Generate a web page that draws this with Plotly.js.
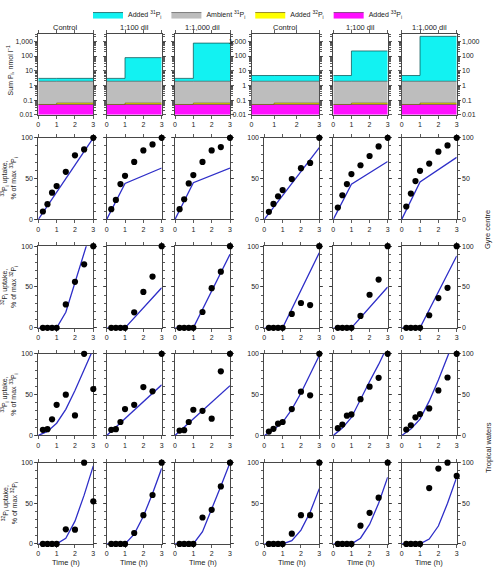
<!DOCTYPE html>
<html><head><meta charset="utf-8">
<script src="https://cdn.plot.ly/plotly-3.0.1.min.js"></script>
<style>body{margin:0;padding:0;background:#fff;} #chart{width:497px;height:567px;}</style>
</head><body><div id="chart"></div>
<script>
const W = 497, H = 567;

// ---------- data ----------
const columnTitles = ["Control", "1:100 dil", "1:1,000 dil", "Control", "1:100 dil", "1:1,000 dil"];
const stepTimes = [0, 1, 3];
const sampleTimes = [0.25, 0.5, 0.75, 1, 1.5, 2, 2.5, 3];
const curveTimes = [0, 0.5, 1, 1.5, 2, 2.5, 3];

// top row: stacked P pools (nmol l-1), per step time
const added33Pi = [0.05, 0.05, 0.05];
const added32Pi = [0, 0.012, 0.012];
const ambient31Pi = [1.85, 1.85, 1.85];
const added31Pi = [
  [1.1, 1.1, 1.1], [1.1, 76, 76], [1.1, 760, 760],
  [2.8, 2.8, 2.8], [2.8, 220, 220], [2.8, 2200, 2200]
];

// row 2: Gyre centre, 33Pi uptake (% of max)
const gyre33Dots = [
  [9.7, 18.6, 32.8, 40.9, 58.3, 78.5, 85.8, 100],
  [12.5, 23.9, 43.3, 53.4, 70.4, 84.6, 91.9, 100],
  [12.5, 24.7, 44.1, 54.3, 70.4, 84.6, 88.7, 100],
  [9.3, 19, 28.3, 36, 49.4, 62.8, 69.2, 100],
  [14.6, 29.6, 43.3, 55.5, 66.4, 77.7, 89.5, 100],
  [15.8, 31.6, 47, 59.5, 68.4, 83, 90.7, 100]
];
const gyre33ModelT = [[0, 3], [0, 1, 3], [0, 1, 3], [0, 3], [0, 1, 3], [0, 1, 3]];
const gyre33ModelY = [[0, 100], [0, 44, 63], [0, 45, 63], [0, 88], [0, 43, 71], [0, 46, 76]];

// row 3: Gyre centre, 32Pi uptake
const gyre32Dots = [
  [0, 0, 0, 0, 28.7, 56.3, 77.7, 100],
  [0, 0, 0, 0, 19, 44, 62.8, 100],
  [0, 0, 0, 0, 19.4, 48.6, 68.8, 100],
  [0, 0, 0, 0, 17, 30.4, 27.9, 100],
  [0, 0, 0, 0, 14.6, 40.5, 59.1, 100],
  [0, 0, 0, 0, 15.4, 36.4, 49, 100]
];
const gyre32ModelT = [[0, 0.5, 1, 1.5, 2, 2.5, 3], [0, 1, 3], [0, 1, 3], [0, 1, 3], [0, 1, 3], [0, 1, 3]];
const gyre32ModelY = [[0, 0, 0, 19, 55, 92, 128], [0, 0, 49], [0, 0, 90], [0, 0, 92], [0, 0, 50], [0, 0, 88]];

// row 4: Tropical waters, 33Pi uptake
const trop33Dots = [
  [6.9, 7.7, 19.8, 37.5, 50, 24.6, 100, 56.9],
  [6.9, 7.7, 16.5, 32.3, 37.5, 59.3, 54, 100],
  [6, 6.5, 16.5, 31.5, 30.2, 20.6, 78.6, 100],
  [4.8, 8.1, 14.5, 16.5, 32.3, 53.6, 49.2, 100],
  [8.9, 13.3, 24.2, 25.8, 44.4, 59.7, 70.6, 100],
  [7.3, 12.5, 22.2, 26.2, 33.1, 55.2, 71, 100]
];
const trop33ModelT = [curveTimes, [0, 3], [0, 3], curveTimes, curveTimes, curveTimes];
const trop33ModelY = [
  [0, 5, 15, 32, 55, 80, 106], [0, 62], [0, 61],
  [0, 7, 16, 32, 52, 74, 98], [0, 9, 22, 45, 66, 87, 110], [0, 8, 20, 42, 68, 97, 125]
];

// row 5: Tropical waters, 32Pi uptake
const trop32Dots = [
  [0, 0, 0, 0, 17.9, 17.5, 100, 52.4],
  [0, 0, 0, 0, 13.4, 35.4, 60.2, 100],
  [0, 0, 0, 0, 32.5, 41.9, 70.7, 100],
  [0, 0, 0, 0, 12.6, 35.4, 35.4, 100],
  [0, 0, 0, 0, 22.4, 38.2, 56.9, 100],
  [0, 0, 0, 0, 68.7, 92.7, 100, 83.7]
];
const trop32ModelT = [curveTimes, curveTimes, curveTimes, curveTimes, curveTimes, curveTimes];
const trop32ModelY = [
  [0, 0, 0, 7, 28, 60, 96], [0, 0, 0, 12, 34, 62, 93], [0, 0, 0, 15, 42, 71, 100],
  [0, 0, 0, 4, 17, 39, 68], [0, 0, 0, 7, 24, 50, 82], [0, 0, 0, 6, 22, 50, 82]
];

const uptakeRows = [
  {dots: gyre33Dots, mT: gyre33ModelT, mY: gyre33ModelY, iso: "33"},
  {dots: gyre32Dots, mT: gyre32ModelT, mY: gyre32ModelY, iso: "32"},
  {dots: trop33Dots, mT: trop33ModelT, mY: trop33ModelY, iso: "33"},
  {dots: trop32Dots, mT: trop32ModelT, mY: trop32ModelY, iso: "32"}
];

// ---------- geometry (pixels) ----------
const colX = [[38.3, 93.3], [106.7, 161.7], [175, 230], [264.3, 319.3], [333.3, 387.7], [401.7, 456.7]];
const topColX = [[38.3, 93.3], [106.7, 161.7], [175, 230], [251.5, 319.3], [333.3, 387.7], [401.7, 456.7]];
const rowY = [[29.3, 110.7], [134, 216.3], [243.3, 325.7], [351.9, 434.3], [461.7, 543.7]];
const px = v => v / W;
const py = v => 1 - v / H;

const FONT = 'Liberation Sans, Arial, sans-serif';
const TXT = '#222';
const AX = '#333';

const traces = [];
const layout = {
  width: W, height: H,
  margin: {l: 0, r: 0, t: 0, b: 0},
  paper_bgcolor: '#fff', plot_bgcolor: '#fff',
  font: {family: FONT, size: 7, color: TXT},
  showlegend: true,
  legend: {
    orientation: 'h', x: px(88), xanchor: 'left', y: py(-5), yanchor: 'top',
    font: {family: FONT, size: 7, color: TXT}, bgcolor: 'rgba(0,0,0,0)',
    itemwidth: 30, tracegroupgap: 0, traceorder: 'normal'
  },
  annotations: []
};

let k = 0;
function makeAxes(xd, yd, yopts, showYLabels, ySide) {
  k++;
  const xn = k === 1 ? 'xaxis' : 'xaxis' + k;
  const yn = k === 1 ? 'yaxis' : 'yaxis' + k;
  layout[xn] = {
    domain: [px(xd[0]), px(xd[1])], anchor: 'y' + (k === 1 ? '' : k),
    range: [0, 3], tickvals: [0, 1, 2, 3], ticks: 'outside', ticklen: 3, tickwidth: 0.8,
    tickcolor: AX, linecolor: AX, linewidth: 0.9, mirror: 'ticks', showgrid: false, zeroline: false,
    tickfont: {family: FONT, size: 7, color: TXT}, fixedrange: true, layer: 'below traces'
  };
  layout[yn] = Object.assign({
    domain: [py(yd[1]), py(yd[0])], anchor: 'x' + (k === 1 ? '' : k),
    ticks: 'outside', ticklen: 3, tickwidth: 0.8, tickcolor: AX, linecolor: AX, linewidth: 0.9,
    mirror: 'ticks', showgrid: false, zeroline: false, showticklabels: showYLabels, side: ySide,
    tickfont: {family: FONT, size: 7, color: TXT}, fixedrange: true, layer: 'below traces'
  }, yopts);
  return {x: 'x' + (k === 1 ? '' : k), y: 'y' + (k === 1 ? '' : k)};
}

// log minor ticks
const logMinor = [];
[0.01, 0.1, 1, 10, 100, 1000].forEach(d => { for (let m = 2; m <= 9; m++) { const v = d * m; if (v <= 3162) logMinor.push(v); } });

// ---------- top row ----------
const names = {
  a31: 'Added <sup>31</sup>P<sub>i</sub>', amb: 'Ambient <sup>31</sup>P<sub>i</sub>',
  a32: 'Added <sup>32</sup>P<sub>i</sub>', a33: 'Added <sup>33</sup>P<sub>i</sub>'
};
for (let c = 0; c < 6; c++) {
  const ax = makeAxes(topColX[c], rowY[0], {
    type: 'log', range: [-2, 3.5],
    tickvals: [0.01, 0.1, 1, 10, 100, 1000], ticktext: ['0.01', '0.1', '1', '10', '100', '1,000'],
    minor: {tickmode: 'array', tickvals: logMinor, ticks: 'outside', ticklen: 2, tickcolor: AX}
  }, c === 0 || c === 3 || c === 5, c === 5 ? 'right' : 'left');
  const floorY = stepTimes.map(() => 0.01);
  const t33 = added33Pi.slice();
  const t32 = t33.map((v, i) => v + added32Pi[i]);
  const tAmb = t32.map((v, i) => v + ambient31Pi[i]);
  const t31 = tAmb.map((v, i) => v + added31Pi[c][i]);
  const base = {x: stepTimes, xaxis: ax.x, yaxis: ax.y, mode: 'lines', hoverinfo: 'skip'};
  traces.push(Object.assign({}, base, {y: floorY, line: {width: 0, shape: 'hv'}, showlegend: false}));
  traces.push(Object.assign({}, base, {y: t33, fill: 'tonexty', fillcolor: '#ff10ff',
    line: {color: '#5a2a5a', width: 0.7, shape: 'hv'}, name: names.a33, showlegend: c === 0, legendrank: 4}));
  traces.push(Object.assign({}, base, {y: t32, fill: 'tonexty', fillcolor: '#ffff00',
    line: {color: '#6e5a00', width: 0.7, shape: 'hv'}, name: names.a32, showlegend: c === 0, legendrank: 3}));
  traces.push(Object.assign({}, base, {y: tAmb, fill: 'tonexty', fillcolor: '#bdbdbd',
    line: {color: '#555', width: 0.7, shape: 'hv'}, name: names.amb, showlegend: c === 0, legendrank: 2}));
  traces.push(Object.assign({}, base, {y: t31, fill: 'tonexty', fillcolor: '#12f2f2',
    line: {color: '#135e5e', width: 0.8, shape: 'hv'}, name: names.a31, showlegend: c === 0, legendrank: 1}));

  layout.annotations.push({text: columnTitles[c], xref: 'paper', yref: 'paper',
    x: px((topColX[c][0] + topColX[c][1]) / 2), y: py(23), xanchor: 'center', yanchor: 'middle',
    showarrow: false, font: {family: FONT, size: 7.5, color: TXT}});
}

// ---------- uptake rows ----------
uptakeRows.forEach((row, r) => {
  for (let c = 0; c < 6; c++) {
    const ax = makeAxes(colX[c], rowY[r + 1], {
      range: [0, 100], tickvals: [0, 50, 100],
      minor: {dtick: 10, tick0: 0, ticks: 'outside', ticklen: 2, tickcolor: AX}
    }, c === 0 || c === 3 || c === 5, c === 5 ? 'right' : 'left');
    traces.push({x: row.mT[c], y: row.mY[c], xaxis: ax.x, yaxis: ax.y, mode: 'lines',
      line: {color: '#2e2ec8', width: 1.3}, showlegend: false, hoverinfo: 'skip'});
    traces.push({x: sampleTimes, y: row.dots[c], xaxis: ax.x, yaxis: ax.y, mode: 'markers',
      marker: {color: '#000', size: 6.2}, cliponaxis: false, showlegend: false, hoverinfo: 'skip'});
  }
  const cy = (rowY[r + 1][0] + rowY[r + 1][1]) / 2;
  layout.annotations.push({
    text: '<sup>' + row.iso + '</sup>P<sub>i</sub> uptake,<br>% of max <sup>' + row.iso + '</sup>P<sub>i</sub>',
    xref: 'paper', yref: 'paper', x: px(10), y: py(cy), xanchor: 'center', yanchor: 'middle',
    textangle: -90, showarrow: false, font: {family: FONT, size: 7, color: TXT}
  });
});

// x titles
for (let c = 0; c < 6; c++) {
  layout.annotations.push({text: 'Time (h)', xref: 'paper', yref: 'paper',
    x: px((colX[c][0] + colX[c][1]) / 2), y: py(562), xanchor: 'center', yanchor: 'middle',
    showarrow: false, font: {family: FONT, size: 7.5, color: TXT}});
}
// top y title
layout.annotations.push({text: 'Sum P<sub>i</sub>, nmol l<sup>\u22121</sup>', xref: 'paper', yref: 'paper',
  x: px(10), y: py(66), xanchor: 'center', yanchor: 'middle', textangle: -90, showarrow: false,
  font: {family: FONT, size: 7, color: TXT}});
// right side labels
layout.annotations.push({text: 'Gyre centre', xref: 'paper', yref: 'paper', x: px(488), y: py(227),
  xanchor: 'center', yanchor: 'middle', textangle: -90, showarrow: false, font: {family: FONT, size: 7.5, color: TXT}});
layout.annotations.push({text: 'Tropical waters', xref: 'paper', yref: 'paper', x: px(488), y: py(447),
  xanchor: 'center', yanchor: 'middle', textangle: -90, showarrow: false, font: {family: FONT, size: 7.5, color: TXT}});

Plotly.newPlot('chart', traces, layout, {staticPlot: true, displayModeBar: false});
</script>
</body></html>
